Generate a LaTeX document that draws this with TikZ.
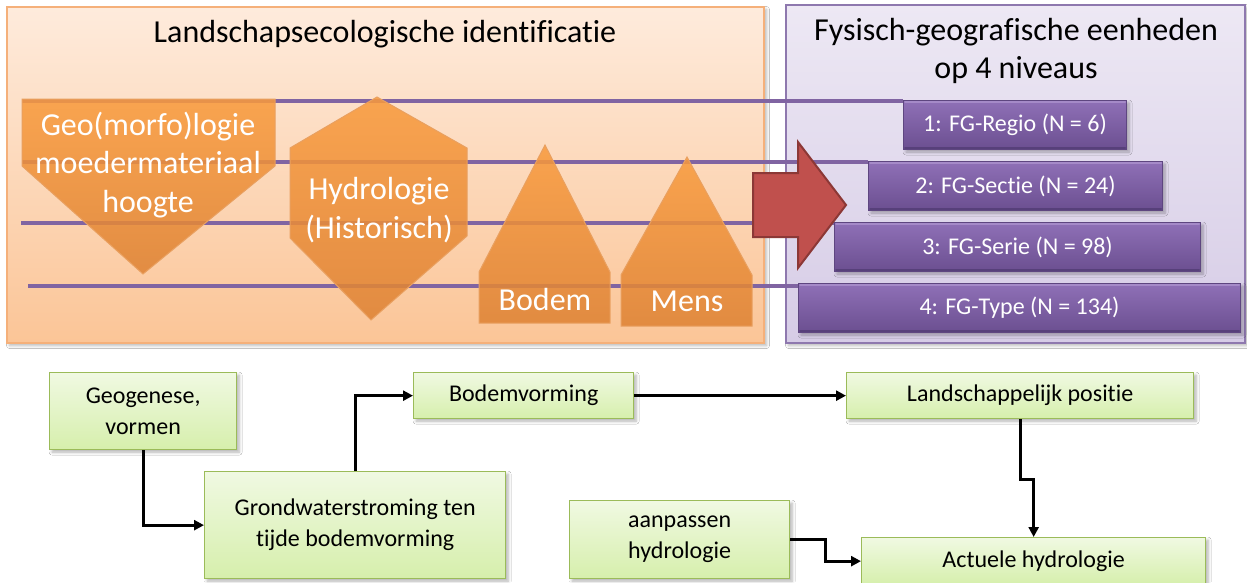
\documentclass[tikz,border=0pt]{standalone}
\usepackage{fontspec}
\setmainfont[Ligatures=NoCommon]{Carlito}
\usetikzlibrary{arrows.meta,shadows.blur}

\definecolor{peachtop}{HTML}{FEEBDC}
\definecolor{peachbot}{HTML}{FBC597}
\definecolor{peachedge}{HTML}{F5B07A}
\definecolor{lavtop}{HTML}{EDE8F4}
\definecolor{lavbot}{HTML}{D6CCE6}
\definecolor{lavedge}{HTML}{8E78AE}
\definecolor{levelline}{HTML}{8064A2}
\definecolor{ortop}{HTML}{F99A3C}
\definecolor{orbot}{HTML}{DE8233}
\definecolor{oredge}{HTML}{E9A060}
\definecolor{fgtop}{HTML}{8F70B7}
\definecolor{fgbot}{HTML}{6B4F90}
\definecolor{fgedge}{HTML}{5E4680}
\definecolor{fglight}{HTML}{A58AC8}
\definecolor{fgdark}{HTML}{57407A}
\definecolor{arrowfill}{HTML}{C0504D}
\definecolor{arrowedge}{HTML}{8C3836}
\definecolor{gtop}{HTML}{F0F9E2}
\definecolor{gbot}{HTML}{D6EFAC}
\definecolor{gedge}{HTML}{9BBB59}

\tikzset{
  softshadow/.style={blur shadow={shadow blur steps=6, shadow xshift=2.5pt, shadow yshift=-2.5pt, shadow opacity=30, shadow blur radius=3pt}},
  panelA/.style={draw=peachedge, line width=1.5pt, top color=peachtop, bottom color=peachbot, softshadow},
  panelB/.style={draw=lavedge, line width=1.5pt, top color=lavtop, bottom color=lavbot, softshadow},
  paneltitle/.style={font=\fontsize{32}{38}\selectfont, align=center, text=black},
  level/.style={line width=4pt, draw=levelline},
  orshape/.style={draw=oredge, line width=1pt, top color=ortop, bottom color=orbot, fill opacity=0.86},
  shapetext/.style={font=\fontsize{32}{38.5}\selectfont, text=white, align=center},
  fgbox/.style={draw=fgedge, line width=1pt, top color=fgtop, bottom color=fgbot, text=white,
    font=\fontsize{24}{28}\selectfont, anchor=north west, inner sep=0pt, softshadow},
  bevellight/.style={draw=fglight, line width=2pt, line cap=round},
  beveldark/.style={draw=fgdark, line width=2pt, line cap=round},
  flowbox/.style={draw=gedge, line width=1.3pt, top color=gtop, bottom color=gbot,
    font=\fontsize{24}{31}\selectfont, align=center, anchor=north west, inner sep=0pt, softshadow},
  conn/.style={line width=3pt, draw=black, -{Triangle[length=10pt,width=10pt]}}
}

\begin{document}
\begin{tikzpicture}[x=1pt,y=-1pt]
\useasboundingbox (0,0) rectangle (1247,582);
\fill[white] (0,0) rectangle (1247,582);

% the two panels
\path[panelA] (7,7) rectangle (764,343);
\path[panelB] (786,5) rectangle (1245,343);
\node[paneltitle] (ttlA) at (385,34) {Landschapsecologische identificatie};
\node[paneltitle] (ttlB) at (1016,51) {Fysisch-geografische eenheden\\op 4 niveaus};

% level lines running towards the four FG levels
\draw[level] (22,101) -- (903,101);
\draw[level] (22,162) -- (868,162);
\draw[level] (21,223) -- (834,223);
\draw[level] (28,286) -- (798,286);

% landscape factors
\path[orshape] (22,99) -- (275,99) -- (275,166) -- (143,274) -- (22,166) -- cycle;
\path[orshape] (377,97) -- (467,148) -- (467,236) -- (371,320) -- (290,238) -- (290,148) -- cycle;
\path[orshape] (545,145) -- (610,272) -- (610,323) -- (479,323) -- (479,272) -- cycle;
\path[orshape] (687,157) -- (752,275) -- (752,326) -- (621,326) -- (621,275) -- cycle;

\node[shapetext] (geo) at (148,165) {Geo(morfo)logie\\moedermateriaal\\hoogte};
\node[shapetext] (hydro) at (379,210) {Hydrologie\\(Historisch)};
\node[shapetext] (bodemf) at (545,299) {Bodem};
\node[shapetext] (mens) at (687,301) {Mens};

% big arrow
\path[fill=arrowfill, draw=arrowedge, line width=2pt, line join=miter]
  (753,173) -- (798,173) -- (798,142) -- (846,205) -- (798,268) -- (798,237) -- (753,237) -- cycle;

% FG levels
\node[fgbox, minimum width=223pt, minimum height=49pt] (fg1) at (903,100) {1: FG-Regio (N = 6)};
\node[fgbox, minimum width=294pt, minimum height=49pt] (fg2) at (868,161) {2: FG-Sectie (N = 24)};
\node[fgbox, minimum width=366pt, minimum height=49pt] (fg3) at (834,222) {3: FG-Serie (N = 98)};
\node[fgbox, minimum width=442pt, minimum height=49pt] (fg4) at (798,283) {4: FG-Type (N = 134)};
\foreach \b in {fg1,fg2,fg3,fg4}{
  \draw[bevellight] ([shift={(2,2)}]\b.north west) -- ([shift={(-2,2)}]\b.north east);
  \draw[beveldark] ([shift={(2,-2)}]\b.south west) -- ([shift={(-2,-2)}]\b.south east);
}

% flow chart
\node[flowbox, minimum width=187pt, minimum height=77pt] (gen) at (49,372) {Geogenese,\\vormen};
\node[flowbox, minimum width=301pt, minimum height=107pt] (grond) at (204,471) {Grondwaterstroming ten\\tijde bodemvorming};
\node[flowbox, minimum width=220pt, minimum height=46pt] (bvorm) at (413,372) {Bodemvorming};
\node[flowbox, minimum width=347pt, minimum height=46pt] (land) at (846,372) {Landschappelijk\ positie};
\node[flowbox, minimum width=220pt, minimum height=78pt] (aanp) at (569,500) {aanpassen\\hydrologie};
\node[flowbox, minimum width=344pt, minimum height=47pt] (act) at (861,537) {Actuele hydrologie};

\draw[conn] (gen.south) |- (grond.west);
\draw[conn] (grond.north) |- (bvorm.west);
\draw[conn] (bvorm.east) -- (land.west);
\draw[conn] (land.south) -- ++(0,60) -| (act.north);
\draw[conn] (aanp.east) -- ++(35,0) |- (act.west);
\end{tikzpicture}
\end{document}
